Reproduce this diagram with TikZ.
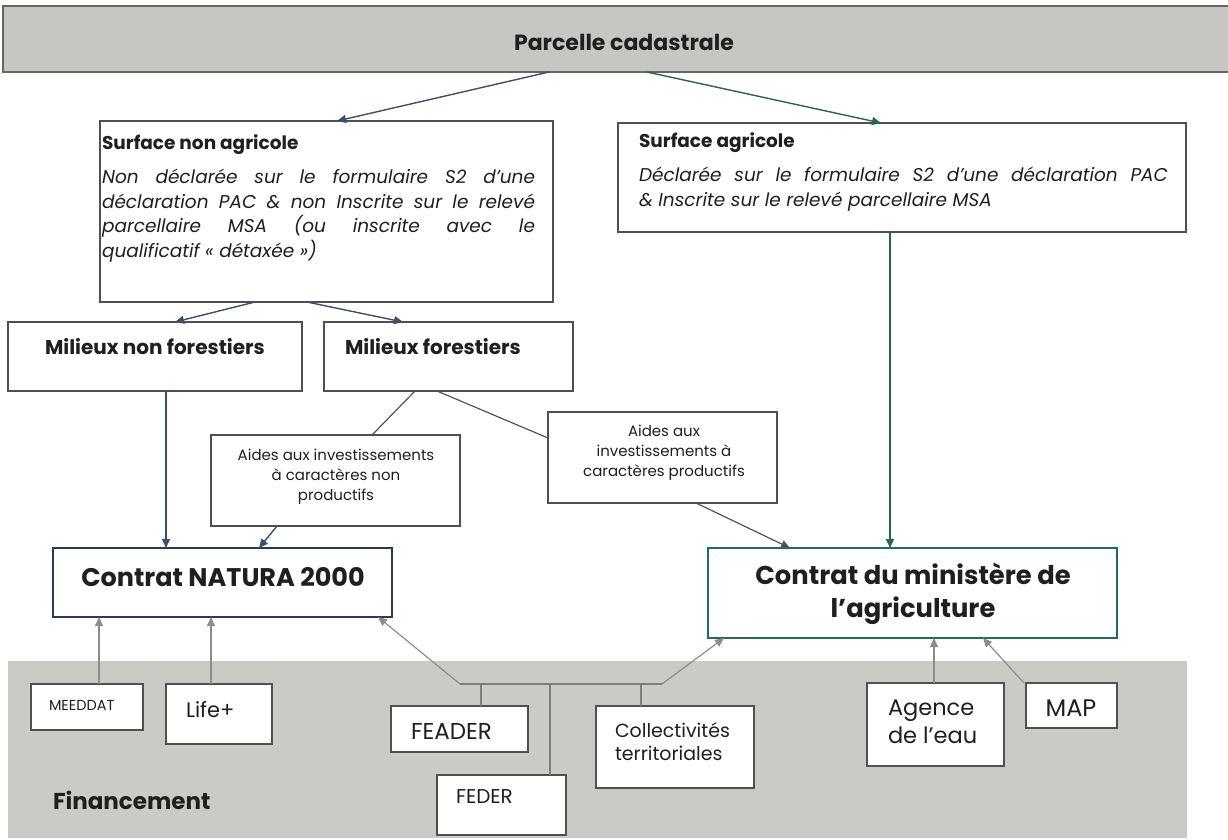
\documentclass[tikz,border=0pt]{standalone}
\usepackage{fontspec}
\setmainfont{Poppins}
\usetikzlibrary{arrows.meta,calc}
\definecolor{bannergray}{RGB}{198,199,194}
\definecolor{fingray}{RGB}{202,202,198}
\definecolor{edgegray}{RGB}{80,80,80}
\definecolor{linkblue}{RGB}{58,80,108}
\definecolor{linkgreen}{RGB}{38,102,78}
\definecolor{linkgray}{RGB}{140,140,140}
\definecolor{linkdark}{RGB}{80,84,88}
\definecolor{naturablue}{RGB}{40,58,92}
\definecolor{minigreen}{RGB}{38,108,80}
\newcommand{\fsz}[1]{\fontsize{#1}{#1}\selectfont}
% \rectnode{name}{style}{x1}{y1}{x2}{y2}
\newcommand{\rectnode}[6]{%
  \node[#2, minimum width={#5-#3}, minimum height={#6-#4}] (#1) at ({(#3+#5)/2},{(#4+#6)/2}) {};}
\tikzset{
  box/.style={draw=edgegray, line width=1.3pt, fill=white, inner sep=0pt, outer sep=0pt},
  banner/.style={draw=gray!80!black, line width=1.5pt, fill=bannergray, inner sep=0pt, outer sep=0pt},
  finzone/.style={fill=fingray, inner sep=0pt, outer sep=0pt},
  contract/.style={box, line width=2.4pt},
  lbl/.style={inner sep=0pt, outer sep=0pt, text=black!88},
  tip/.style={-{Triangle[length=9pt,width=8pt]}},
  bluearr/.style={tip, draw=linkblue, line width=1.4pt},
  greenarr/.style={tip, draw=linkgreen, line width=1.4pt},
  grayarr/.style={tip, draw=linkgray, line width=1.2pt},
  plain/.style={draw=linkdark, line width=1.2pt},
  busline/.style={draw=linkgray!90!black, line width=1.2pt},
}
\begin{document}
\begin{tikzpicture}[x=1pt,y=-1pt]
\useasboundingbox (0,0) rectangle (1228,840);

% funding zone and heading band
\rectnode{fin}{finzone}{8}{661}{1187}{838}
\rectnode{banner}{banner}{3}{6}{1232}{72}

% boxes
\rectnode{sna}{box}{100}{121}{553}{302}
\rectnode{sa}{box}{618}{123}{1186}{232}
\rectnode{mnf}{box}{8}{322}{302}{391}
\rectnode{mf}{box}{324}{322}{573}{391}
\rectnode{anp}{box}{211}{435}{460}{526}
\rectnode{ap}{box}{548}{412}{777}{503}
\rectnode{natura}{contract, draw=naturablue}{53}{548}{392}{617}
\rectnode{mini}{contract, draw=minigreen}{708}{548}{1117}{638}
\rectnode{meeddat}{box}{31}{684}{143}{730}
\rectnode{life}{box}{166}{684}{272}{744}
\rectnode{feader}{box}{391}{706}{528}{752}
\rectnode{feder}{box}{437}{775}{566}{835}
\rectnode{coll}{box}{596}{706}{754}{788}
\rectnode{agence}{box}{867}{683}{1004}{766}
\rectnode{map}{box}{1026}{683}{1117}{728}

% texts
\node[lbl, font=\fsz{22}\bfseries] (tbanner) at (624,42) {Parcelle cadastrale};

\node[lbl, anchor=west, font=\fsz{18.5}\bfseries] (tsna) at (102,145) {Surface non agricole};
% the base anchor of a multi-line node sits on its last line
\node[lbl, anchor=base west, align=left, font=\fontsize{18.5}{24.7}\selectfont\itshape] (tsnad) at (102,257.6)
  {\makebox[433pt][s]{Non déclarée sur le formulaire S2 d’une}\\
   \makebox[433pt][s]{déclaration PAC \& non Inscrite sur le relevé}\\
   \makebox[433pt][s]{parcellaire MSA (ou inscrite avec le}\\
   qualificatif « détaxée »)};

\node[lbl, anchor=west, font=\fsz{18.5}\bfseries] (tsa) at (639,143) {Surface agricole};
\node[lbl, anchor=base west, align=left, font=\fontsize{18.5}{25}\selectfont\itshape] (tsad) at (639,206.5)
  {\makebox[529pt][s]{Déclarée sur le formulaire S2 d’une déclaration PAC}\\
   \& Inscrite sur le relevé parcellaire MSA};

\node[lbl, anchor=west, font=\fsz{20}\bfseries] (tmnf) at (45,347) {Milieux non forestiers};
\node[lbl, anchor=west, font=\fsz{20}\bfseries] (tmf) at (345,347) {Milieux forestiers};

\node[lbl, align=center, font=\fontsize{15}{20}\selectfont] (tanp) at (336,477)
  {Aides aux investissements\\à caractères non\\productifs};
\node[lbl, align=center, font=\fontsize{15}{20}\selectfont] (tap) at (664,453)
  {Aides aux\\investissements à\\caractères productifs};

\node[lbl, font=\fsz{25.5}\bfseries] (tnatura) at (223,577) {Contrat NATURA 2000};
\node[lbl, align=center, font=\fontsize{25.8}{33}\selectfont\bfseries] (tmini) at (913,594)
  {Contrat du ministère de\\l’agriculture};

\node[lbl, anchor=west, font=\fsz{14.5}] (tmeeddat) at (49,705) {MEEDDAT};
\node[lbl, anchor=west, font=\fsz{21}] (tlife) at (186,710) {Life+};
\node[lbl, anchor=west, font=\fsz{23}] (tfeader) at (411,731) {FEADER};
\node[lbl, anchor=west, font=\fsz{20}] (tfeder) at (456,797) {FEDER};
\node[lbl, anchor=west, align=left, font=\fontsize{19}{23}\selectfont] (tcoll) at (615,741.5)
  {Collectivités\\territoriales};
\node[lbl, anchor=west, align=left, font=\fontsize{22.5}{28}\selectfont] (tagence) at (888,722)
  {Agence\\de l’eau};
\node[lbl, font=\fsz{24}] (tmap) at (1071,708) {MAP};
\node[lbl, anchor=west, font=\fsz{23}\bfseries] (tfin) at (53,800) {Financement};

% connectors: upper part
\draw[bluearr] ([xshift=-68.5pt]banner.south) -- ([xshift=10.5pt]sna.north);
\draw[greenarr] ([xshift=29.5pt]banner.south) -- ([xshift=-21pt]sa.north);
\draw[bluearr] ([xshift=-71.5pt]sna.south) -- ([xshift=20pt]mnf.north);
\draw[bluearr] ([xshift=-19.5pt]sna.south) -- ([xshift=-45.5pt]mf.north);
\draw[bluearr] ([xshift=11pt]mnf.south) -- ([xshift=-56.5pt]natura.north);
\draw[plain] ([xshift=-33.5pt]mf.south) -- ([xshift=36.5pt]anp.north);
\draw[bluearr] ([xshift=-58.5pt]anp.south) -- ([xshift=36.5pt]natura.north);
\draw[plain] ([xshift=-11.5pt]mf.south) -- ([yshift=19.5pt]ap.west);
\draw[plain, -{Triangle[length=9pt,width=8pt,fill=linkgreen]}] ([xshift=33.5pt]ap.south) -- ([xshift=-122.5pt]mini.north);
\draw[greenarr] ([xshift=-12pt]sa.south) -- ([xshift=-22.5pt]mini.north);

% connectors: funding
\draw[grayarr] ([xshift=12pt]meeddat.north) -- ([xshift=-123.5pt]natura.south);
\draw[grayarr] ([xshift=-8pt]life.north) -- ([xshift=-11.5pt]natura.south);
\coordinate (busL) at (460,684);
\coordinate (busR) at (662,684);
\draw[busline] (busL) -- (busR);
\draw[grayarr] (busL) -- ([xshift=-14pt]natura.south east);
\draw[grayarr] (busR) -- ([xshift=-188.5pt]mini.south);
\draw[busline] ([xshift=21.5pt]feader.north) -- ([xshift=21.5pt]feader.north |- busL);
\draw[busline] ([xshift=48.5pt]feder.north) -- ([xshift=48.5pt]feder.north |- busL);
\draw[busline] ([xshift=-34pt]coll.north) -- ([xshift=-34pt]coll.north |- busL);
\draw[grayarr] ([xshift=-1.5pt]agence.north) -- ([xshift=21.5pt]mini.south);
\draw[grayarr] ([xshift=-47.5pt]map.north) -- ([xshift=70.5pt]mini.south);
\end{tikzpicture}
\end{document}
